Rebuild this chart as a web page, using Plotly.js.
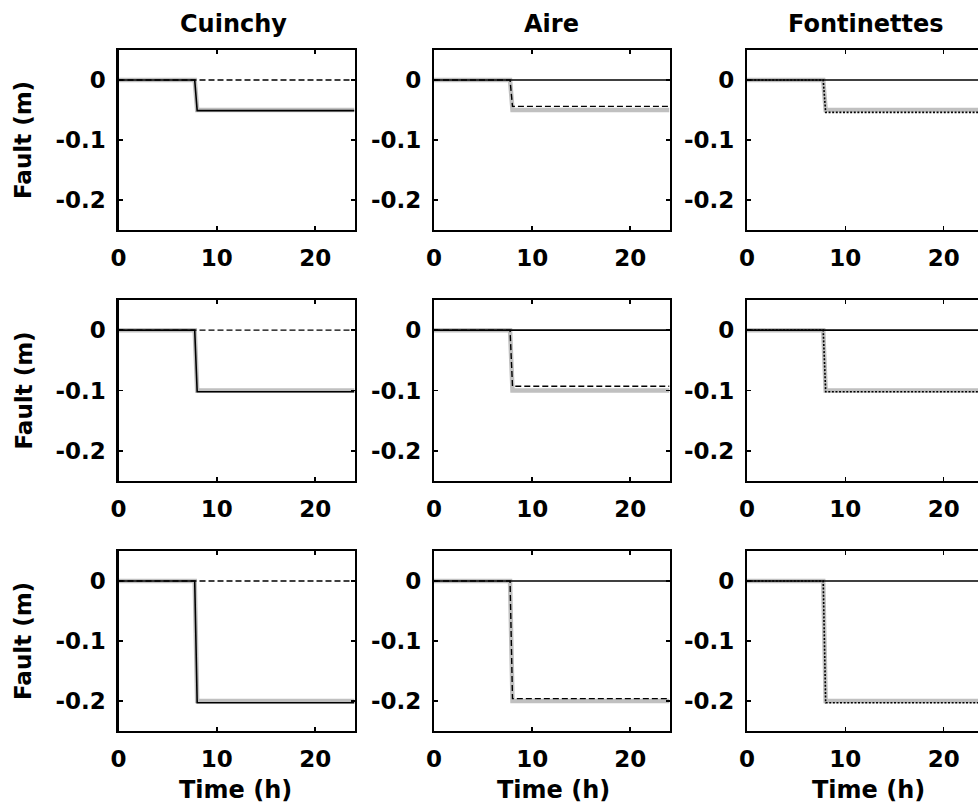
<!DOCTYPE html>
<html>
<head>
<meta charset="utf-8">
<script src="https://cdn.plot.ly/plotly-3.0.1.min.js"></script>
<style>
html, body { margin: 0; padding: 0; overflow: hidden; background: #fff; }
#chart { width: 1000px; height: 810px; }
</style>
</head>
<body>
<div id="chart"></div>
<script>
// ---- data ----
const locations = ['Cuinchy', 'Aire', 'Fontinettes'];
const time = [0, 7.75, 8, 24];               // hours
const trueFault = [-0.05, -0.1, -0.2];       // grey line, one per row
const estCuinchy = [-0.051, -0.102, -0.203]; // solid line (Cuinchy column)
const estAire = [-0.044, -0.093, -0.196];    // dashed line (Aire column)
const estFontinettes = [-0.054, -0.102, -0.203]; // dotted line (Fontinettes column)
const xTicks = [0, 10, 20];
const yTicks = [0, -0.1, -0.2];
const yTickText = ['0', '-0.1', '-0.2'];

// ---- layout geometry (pixels in a 1000 x 810 paper) ----
const W = 1000, H = 810;
const colPx = [[118.5, 354.5], [434, 669.5], [747, 983]];
const rowPx = [[50, 230], [300, 481], [551, 731]];
const FONT = 'DejaVu Sans';

function step(v) { return [0, 0, v, v]; }

const traces = [];
const layout = {
  width: W, height: H,
  margin: {l: 0, r: 0, t: 0, b: 0},
  paper_bgcolor: '#fff', plot_bgcolor: '#fff',
  showlegend: false,
  annotations: []
};

const estByCol = [estCuinchy, estAire, estFontinettes];
const dashByCol = ['solid', '6px,3px', '2px,1.6px'];

for (let r = 0; r < 3; r++) {
  for (let c = 0; c < 3; c++) {
    const k = r * 3 + c + 1;
    const xa = 'x' + (k === 1 ? '' : k), ya = 'y' + (k === 1 ? '' : k);
    const xk = 'xaxis' + (k === 1 ? '' : k), yk = 'yaxis' + (k === 1 ? '' : k);
    // grey true fault
    traces.push({x: time, y: step(trueFault[r]), xaxis: xa, yaxis: ya, mode: 'lines',
      line: {color: '#c0c0c0', width: 4.5}, hoverinfo: 'skip'});
    // solid estimate (Cuinchy) – zero except in Cuinchy column
    const solidVals = step(c === 0 ? estCuinchy[r] : 0);
    if (c === 0) {
      traces.push({x: time, y: solidVals, xaxis: xa, yaxis: ya, mode: 'lines',
        line: {color: '#000', width: 1.6}, hoverinfo: 'skip'});
      traces.push({x: time, y: step(0), xaxis: xa, yaxis: ya, mode: 'lines',
        line: {color: '#000', width: 1.3, dash: dashByCol[1]}, hoverinfo: 'skip'});
    } else {
      traces.push({x: time, y: solidVals, xaxis: xa, yaxis: ya, mode: 'lines',
        line: {color: '#000', width: 1.6}, hoverinfo: 'skip'});
      traces.push({x: time, y: step(estByCol[c][r]), xaxis: xa, yaxis: ya, mode: 'lines',
        line: {color: '#000', width: c === 1 ? 1.4 : 1.6, dash: dashByCol[c]}, hoverinfo: 'skip'});
    }
    const common = {
      showline: true, mirror: 'ticks', linecolor: '#000', linewidth: 2.2,
      ticks: 'inside', ticklen: 4, tickwidth: 1.6, tickcolor: '#000',
      showgrid: false, zeroline: false, fixedrange: true,
      tickfont: {family: FONT, size: 23, color: '#000', weight: 'bold'}
    };
    layout[xk] = Object.assign({}, common, {
      domain: [colPx[c][0] / W, colPx[c][1] / W], anchor: ya,
      range: [0, 24], tickmode: 'array', tickvals: xTicks, ticktext: xTicks.map(String),
      ticklabelstandoff: 6
    });
    layout[yk] = Object.assign({}, common, {
      domain: [1 - rowPx[r][1] / H, 1 - rowPx[r][0] / H], anchor: xa,
      range: [-0.25, 0.05], tickmode: 'array', tickvals: yTicks, ticktext: yTickText,
      ticklabelstandoff: 6
    });
  }
}

// column titles
const titleX = [233, 551, 866];
for (let c = 0; c < 3; c++) {
  layout.annotations.push({text: locations[c], xref: 'paper', yref: 'paper',
    x: titleX[c] / W, y: 1 - 24 / H, xanchor: 'center', yanchor: 'middle', showarrow: false,
    font: {family: FONT, size: 24, color: '#000', weight: 'bold'}});
  layout.annotations.push({text: 'Time (h)', xref: 'paper', yref: 'paper',
    x: (titleX[c] + 2) / W, y: 1 - 790 / H, xanchor: 'center', yanchor: 'middle', showarrow: false,
    font: {family: FONT, size: 24, color: '#000', weight: 'bold'}});
}
for (let r = 0; r < 3; r++) {
  layout.annotations.push({text: 'Fault (m)', xref: 'paper', yref: 'paper',
    x: 23 / W, y: 1 - ((rowPx[r][0] + rowPx[r][1]) / 2) / H, xanchor: 'center', yanchor: 'middle',
    textangle: -90, showarrow: false,
    font: {family: FONT, size: 23, color: '#000', weight: 'bold'}});
}

Plotly.newPlot('chart', traces, layout, {staticPlot: true, displayModeBar: false});
</script>
</body>
</html>
